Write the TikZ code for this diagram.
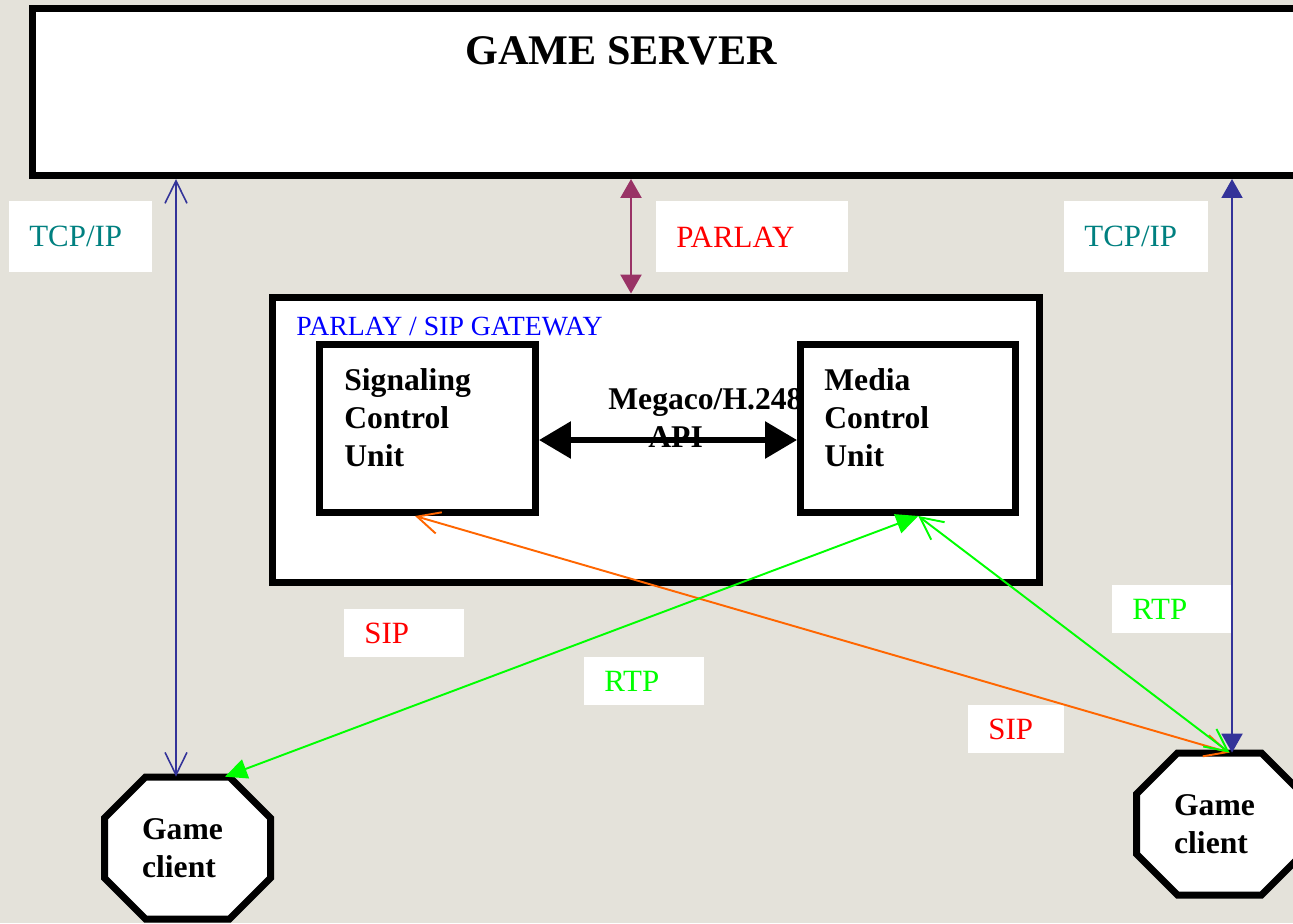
\documentclass[tikz,border=0pt]{standalone}
\usepackage{fontspec}
\setmainfont{Liberation Serif}
\usetikzlibrary{positioning, arrows.meta, calc}

\definecolor{bgcolor}{RGB}{228,226,218}
\definecolor{tcpblue}{RGB}{51,51,153}
\definecolor{tcpteal}{RGB}{0,128,128}
\definecolor{gwblue}{RGB}{0,0,255}
\definecolor{parlaymaroon}{RGB}{153,51,102}
\definecolor{siporange}{RGB}{255,102,0}
\definecolor{rtpgreen}{RGB}{0,255,0}

\tikzset{
  tcpvee/.tip={Straight Barb[length=0.45cm, width=0.44cm]},
  tritip/.tip={Triangle[length=0.38cm, width=0.42cm]},
  rtptip/.tip={Triangle[length=0.44cm, width=0.40cm]},
  megatip/.tip={Triangle[length=0.64cm, width=0.72cm]}
}

\begin{document}
\begin{tikzpicture}[
    x=0.02cm, y=-0.02cm,
    boxline/.style={draw, line width=0.14cm, fill=white},
    tag/.style={fill=white, anchor=north west, inner xsep=0.4cm, inner ysep=0pt,
        align=left, font=\fontsize{17.6}{21}\selectfont},
    unittext/.style={anchor=north west, inner sep=0pt, align=left,
        font=\bfseries\fontsize{18}{21.6}\selectfont},
    client/.style={minimum width=3.34cm, minimum height=2.84cm, inner sep=0pt,
        align=left, font=\bfseries\fontsize{18}{21.6}\selectfont},
    tcplink/.style={draw=tcpblue, line width=0.9pt},
    sipline/.style={draw=siporange, line width=1.1pt},
    rtpline/.style={draw=rtpgreen, line width=1.1pt}
  ]
  \useasboundingbox (0,0) rectangle (1293,923);
  \clip (0,0) rectangle (1293,923);
  \fill[bgcolor] (0,0) rectangle (1293,923);

  % game server
  \node[boxline, minimum width=25.56cm, minimum height=3.34cm] (server) at (671,92) {};
  \node[anchor=base, font=\bfseries\fontsize{24}{28}\selectfont] (servertitle) at (621,64) {GAME SERVER};

  % gateway with its two units
  \node[boxline, minimum width=15.36cm, minimum height=5.72cm] (gw) at (656,440) {};
  \node[anchor=base west, inner sep=0pt, text=gwblue, font=\fontsize{15.8}{19}\selectfont] (gwtitle) at (296,335) {PARLAY / SIP GATEWAY};
  \node[boxline, minimum width=4.32cm, minimum height=3.36cm] (sig) at (427.5,428.5) {};
  \node[unittext] (sigtext) at (344,368) {Signaling\\Control\\Unit};
  \node[unittext] (megaco) at (608,388) {Megaco/H.248\\\hspace*{0.8cm}API};
  \node[boxline, minimum width=4.31cm, minimum height=3.36cm] (med) at (908.25,428.5) {};
  \node[unittext] (medtext) at (824,368) {Media\\Control\\Unit};
  \draw[line width=0.12cm, {megatip}-{megatip}] ($(sig.east)+(0,11.5)$) -- ($(med.west)+(0,11.5)$);

  % labels
  \node[tag, text=tcpteal, text width=2.06cm, minimum height=1.42cm] (tcpL) at (9,201) {TCP/IP};
  \node[tag, text=red, text width=3.04cm, minimum height=1.42cm] (parlay) at (656,201) {PARLAY};
  \node[tag, text=tcpteal, text width=2.08cm, minimum height=1.42cm] (tcpR) at (1064,201) {TCP/IP};
  \node[tag, text=rtpgreen, text width=1.6cm, minimum height=0.96cm] (rtpR) at (1112,585) {RTP};
  \node[tag, text=red, text width=1.12cm, minimum height=0.96cm] (sipR) at (968,705) {SIP};
  \node[tag, text=red, text width=1.6cm, minimum height=0.96cm] (sipL) at (344,609) {SIP};
  \node[tag, text=rtpgreen, text width=1.6cm, minimum height=0.96cm] (rtpM) at (584,657) {RTP};

  % game clients
  \foreach \n/\p in {cL/{187.5,848}, cR/{1219.5,824}} {
    \draw[boxline, shift={(\p)}] (-42,-71) -- (42,-71) -- (83,-30) -- (83,30)
      -- (42,71) -- (-42,71) -- (-83,30) -- (-83,-30) -- cycle;
    \node[client] (\n) at (\p) {\hspace*{-0.2cm}Game\\\hspace*{-0.2cm}client};
  }

  % links
  \coordinate (tcpLend) at ($(cL.north)+(-11.5,0)$);
  \coordinate (tcpRend) at ($(cR.north)+(12.5,0)$);
  \coordinate (parlayend) at ($(gw.north)+(-25,0)$);
  \draw[tcplink, {tcpvee}-{tcpvee}] (server.south -| tcpLend) -- (tcpLend);
  \draw[tcplink, line width=1.1pt, {tritip}-{tritip}] (server.south -| tcpRend) -- (tcpRend);
  \draw[draw=parlaymaroon, line width=1.4pt, {tritip}-{tritip}] (server.south -| parlayend) -- (parlayend);
  \draw[sipline, {tcpvee}-{tcpvee}] ($(sig.south)+(-12.5,0)$) -- ($(cR.north)+(10,0)$);
  \draw[rtpline, {rtptip}-{rtptip}] ($(med.south)+(10,0)$) -- ($(cL.north)+(37.5,0)$);
  \draw[rtpline, {tcpvee}-{tcpvee}] ($(med.south)+(10,0)$) -- ($(cR.north)+(10,0)$);
\end{tikzpicture}
\end{document}
